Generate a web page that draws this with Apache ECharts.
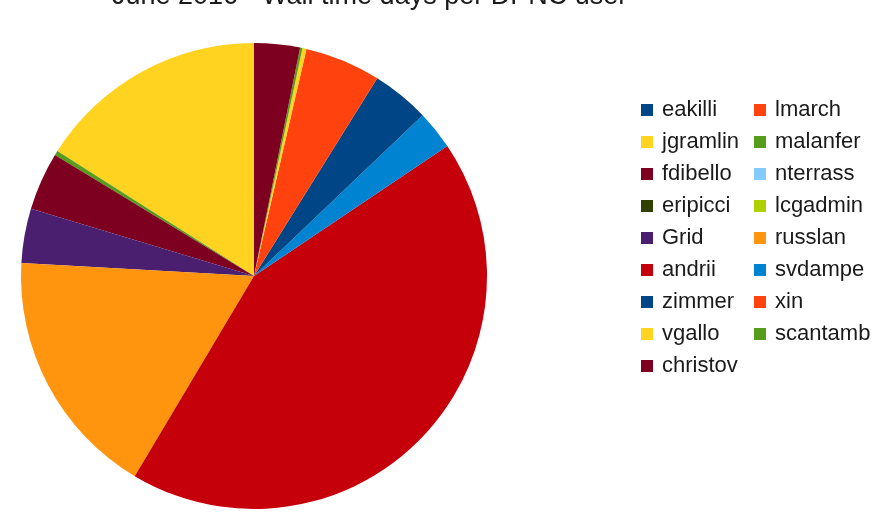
<!DOCTYPE html>
<html>
<head>
<meta charset="utf-8">
<title>June 2016 - Wall time days per DPNC user</title>
<script src="https://cdn.jsdelivr.net/npm/echarts@6/dist/echarts.min.js"></script>
<style>
  html, body { margin: 0; padding: 0; background: #ffffff; }
  #chart { width: 891px; height: 512px; }
</style>
</head>
<body>
<div id="chart"></div>
<script>
// Wall time (days) per user, in series order
const users = ['eakilli', 'lmarch', 'jgramlin', 'malanfer', 'fdibello', 'nterrass',
  'eripicci', 'lcgadmin', 'Grid', 'russlan', 'andrii', 'svdampe', 'zimmer', 'xin',
  'vgallo', 'scantamb', 'christov'];
const wallDays = [0, 0, 57.5, 1.1, 14.5, 0, 0, 0, 13.6, 62.3, 154.5, 9.7, 14.4, 18.9,
  1.0, 0.6, 11.4];
const palette = ['#004586', '#ff420e', '#ffd320', '#579d1c', '#7e0021', '#83caff',
  '#314004', '#aecf00', '#4b1f6f', '#ff950e', '#c5000b', '#0084d1'];

const chart = echarts.init(document.getElementById('chart'), null, { renderer: 'canvas' });

const pieData = users.map((name, i) => ({
  name: name,
  value: wallDays[i],
  itemStyle: { color: palette[i % palette.length] }
}));

// legend laid out row by row over two columns
const leftCol = users.filter((_, i) => i % 2 === 0);
const rightCol = users.filter((_, i) => i % 2 === 1);

const legendBase = {
  orient: 'vertical',
  top: 99,
  icon: 'rect',
  itemWidth: 12,
  itemHeight: 12,
  itemGap: 10,
  padding: 0,
  selectedMode: false,
  textStyle: {
    fontFamily: 'Liberation Sans',
    fontSize: 22,
    color: '#1a1a1a',
    lineHeight: 22,
    padding: [0, 0, 0, 4]
  }
};

chart.setOption({
  animation: false,
  title: {
    text: 'June 2016 - Wall time days per DPNC user',
    left: 112,
    top: -17,
    padding: 0,
    textStyle: {
      fontFamily: 'Liberation Sans',
      fontSize: 27,
      fontWeight: 'normal',
      color: '#1a1a1a'
    }
  },
  legend: [
    Object.assign({}, legendBase, { left: 641, data: leftCol }),
    Object.assign({}, legendBase, { left: 754, data: rightCol })
  ],
  series: [{
    type: 'pie',
    center: [254, 276],
    radius: 233,
    startAngle: 90,
    clockwise: false,
    avoidLabelOverlap: false,
    label: { show: false },
    labelLine: { show: false },
    emphasis: { disabled: true },
    itemStyle: { borderWidth: 0 },
    data: pieData
  }]
});
</script>
</body>
</html>
